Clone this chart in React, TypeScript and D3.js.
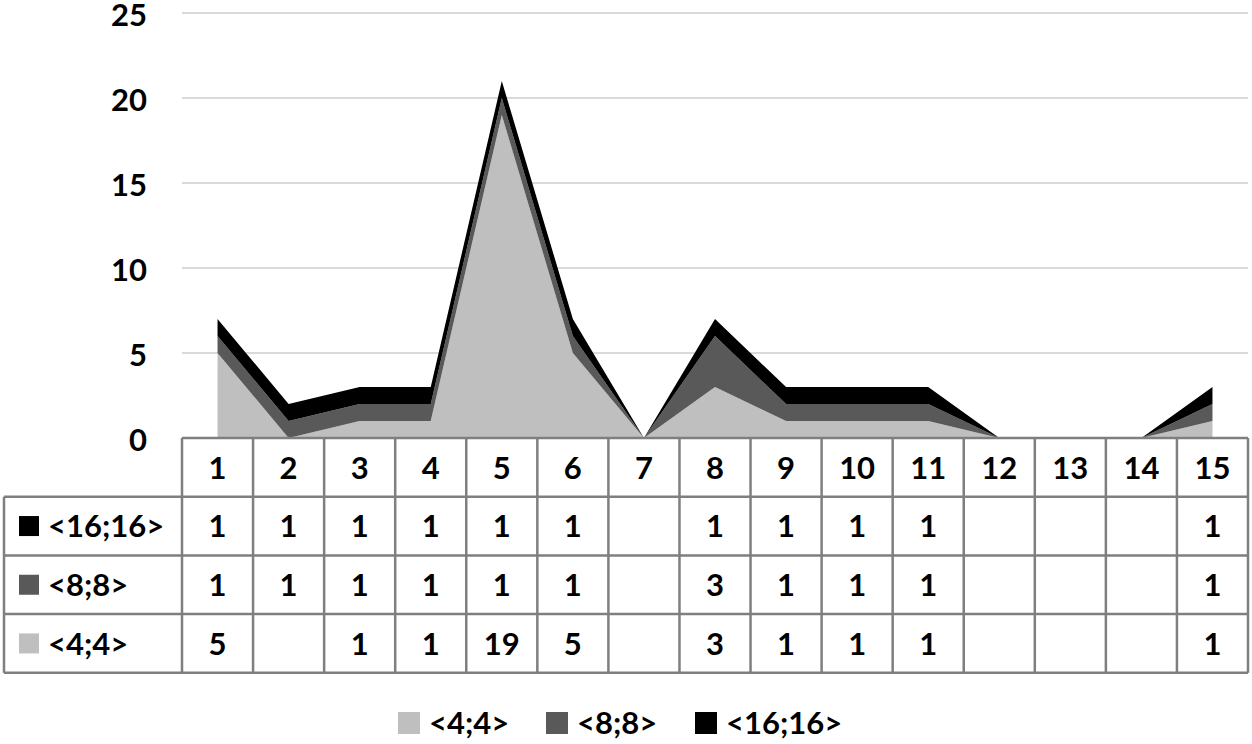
import React from "react";
import * as d3 from "d3";

// categories and series
const categories = ["1", "2", "3", "4", "5", "6", "7", "8", "9", "10", "11", "12", "13", "14", "15"];
const seriesNames = ["<4;4>", "<8;8>", "<16;16>"];
const s4 = [5, 0, 1, 1, 19, 5, 0, 3, 1, 1, 1, 0, 0, 0, 1];
const s8 = [1, 1, 1, 1, 1, 1, 0, 3, 1, 1, 1, 0, 0, 0, 1];
const s16 = [1, 1, 1, 1, 1, 1, 0, 1, 1, 1, 1, 0, 0, 0, 1];
// which cells are blank in the data table (value missing)
const blank4 = [false, true, false, false, false, false, true, false, false, false, false, true, true, true, false];
const blank8 = [false, false, false, false, false, false, true, false, false, false, false, true, true, true, false];
const blank16 = [false, false, false, false, false, false, true, false, false, false, false, true, true, true, false];
const yTicks = [0, 5, 10, 15, 20, 25];
const colors = ["#bfbfbf", "#595959", "#000000"];

const W = 1252;
const H = 744;
const FONT = "Lato, 'Open Sans', sans-serif";
const FS = 31;

const App = () => {
    const left = 182;
    const right = 1248;
    const top = 13;
    const baseY = 438;
    const rowH = 58.7;
    const labelLeft = 4;

    const x = d3.scaleBand<string>().domain(categories).range([left, right]).padding(0);
    const cx = (c: string) => (x(c) as number) + x.bandwidth() / 2;
    const y = d3.scaleLinear().domain([0, 25]).range([baseY, top]);

    const rows = categories.map((c, i) => ({ cat: c, a: s4[i], b: s8[i], c16: s16[i] }));
    const stack = d3.stack<any>().keys(["a", "b", "c16"]);
    const layers = stack(rows);

    const area = d3
        .area<any>()
        .x((d) => cx(d.data.cat))
        .y0((d) => y(d[0]))
        .y1((d) => y(d[1]));

    // table rows top to bottom
    const tableRows = [
        { name: seriesNames[2], color: colors[2], vals: s16, blank: blank16 },
        { name: seriesNames[1], color: colors[1], vals: s8, blank: blank8 },
        { name: seriesNames[0], color: colors[0], vals: s4, blank: blank4 },
    ];

    const lineColor = "#7f7f7f";
    const lw = 2.5;

    // legend items
    const legend = [
        { name: seriesNames[0], color: colors[0], x: 398 },
        { name: seriesNames[1], color: colors[1], x: 546 },
        { name: seriesNames[2], color: colors[2], x: 695 },
    ];

    return (
        <svg width={W} height={H} style={{ position: "absolute", left: 0, top: 0, background: "#fff" }} fontFamily={FONT} fontWeight={700}>
            {/* gridlines */}
            {yTicks.filter((t) => t > 0).map((t) => (
                <line key={t} x1={left} x2={right} y1={y(t)} y2={y(t)} stroke="#d9d9d9" strokeWidth={2} />
            ))}
            {/* y labels */}
            {yTicks.map((t) => (
                <text key={t} x={147} y={y(t) + 2} dy="0.36em" textAnchor="end" fontSize={FS} fill="#000">
                    {t}
                </text>
            ))}
            {/* stacked areas */}
            {layers.map((layer, i) => (
                <path key={i} d={area(layer) as string} fill={colors[i]} />
            ))}
            {/* data table */}
            <g stroke={lineColor} strokeWidth={lw} fill="none">
                <line x1={left} x2={right} y1={baseY} y2={baseY} />
                {[1, 2, 3, 4].map((r) => (
                    <line key={r} x1={labelLeft} x2={right} y1={baseY + r * rowH} y2={baseY + r * rowH} />
                ))}
                <line x1={labelLeft} x2={labelLeft} y1={baseY + rowH} y2={baseY + 4 * rowH} />
                {categories.map((c) => (
                    <line key={c} x1={x(c) as number} x2={x(c) as number} y1={baseY} y2={baseY + 4 * rowH} />
                ))}
                <line x1={right} x2={right} y1={baseY} y2={baseY + 4 * rowH} />
            </g>
            {categories.map((c) => (
                <text key={c} x={cx(c)} y={baseY + rowH / 2} dy="0.36em" textAnchor="middle" fontSize={FS}>
                    {c}
                </text>
            ))}
            {tableRows.map((r, ri) => {
                const yc = baseY + rowH * (ri + 1) + rowH / 2;
                return (
                    <g key={r.name}>
                        <rect x={19} y={yc - 10} width={20} height={20} fill={r.color} />
                        <text x={48} y={yc} dy="0.36em" fontSize={FS}>
                            {r.name}
                        </text>
                        {categories.map((c, i) =>
                            r.blank[i] ? null : (
                                <text key={c} x={cx(c)} y={yc} dy="0.36em" textAnchor="middle" fontSize={FS}>
                                    {r.vals[i]}
                                </text>
                            )
                        )}
                    </g>
                );
            })}
            {/* legend */}
            {legend.map((l) => (
                <g key={l.name}>
                    <rect x={l.x} y={712} width={22} height={22} fill={l.color} />
                    <text x={l.x + 31} y={723} dy="0.36em" fontSize={FS}>
                        {l.name}
                    </text>
                </g>
            ))}
        </svg>
    );
};

export default App;
